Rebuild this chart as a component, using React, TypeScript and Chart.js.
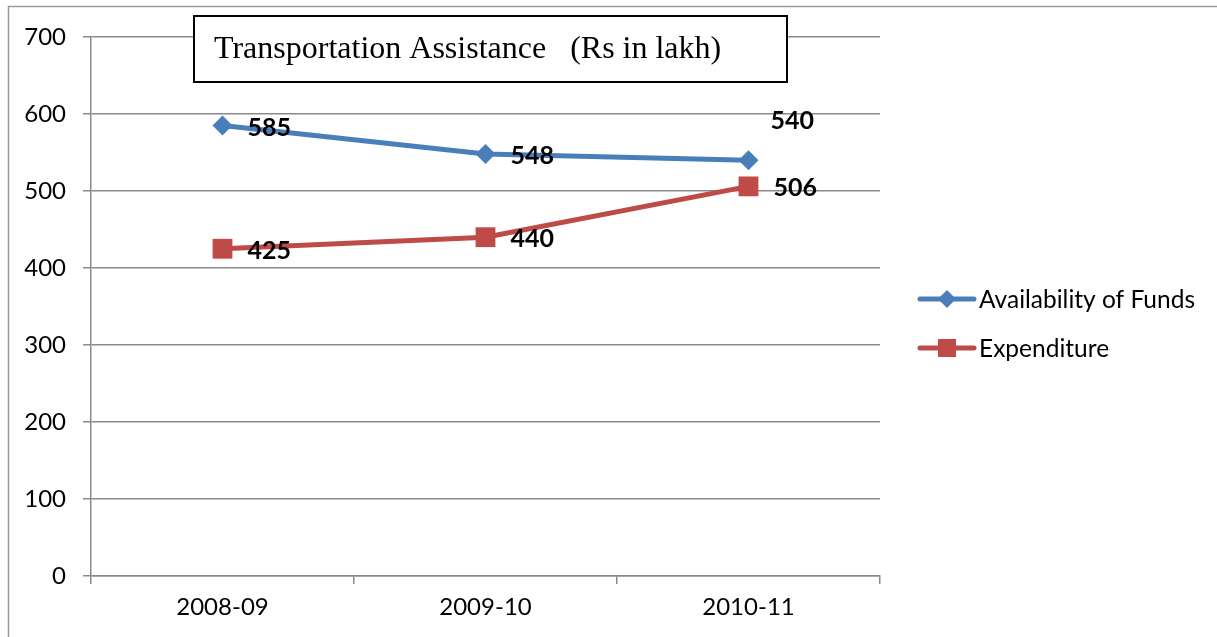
import React, { useEffect, useRef } from "react";
import { Chart, registerables } from "chart.js";

Chart.register(...registerables);

const categories = ["2008-09", "2009-10", "2010-11"];
const availabilityOfFunds = [585, 548, 540];
const expenditure = [425, 440, 506];
const yTicks = [0, 100, 200, 300, 400, 500, 600, 700];
const titleText = "Transportation Assistance   (Rs in lakh)";
const seriesLabels = ["Availability of Funds", "Expenditure"];

const BLUE = "#4A7EBB";
const RED = "#BE4B48";
const GRID = "#8a8a8a";

const framePlugin = {
  id: "frame",
  beforeDraw(chart: any) {
    const ctx = chart.ctx;
    ctx.save();
    ctx.fillStyle = "#ffffff";
    ctx.fillRect(0, 0, chart.width, chart.height);
    ctx.strokeStyle = "#9a9a9a";
    ctx.lineWidth = 1.5;
    ctx.beginPath();
    ctx.moveTo(8.5, chart.height);
    ctx.lineTo(8.5, 6.5);
    ctx.lineTo(chart.width, 6.5);
    ctx.stroke();
    ctx.restore();
  },
};

const overlayPlugin = {
  id: "overlay",
  afterDraw(chart: any) {
    const ctx = chart.ctx;
    ctx.save();
    // title box
    ctx.fillStyle = "#ffffff";
    ctx.fillRect(193, 15, 594, 67);
    ctx.strokeStyle = "#000000";
    ctx.lineWidth = 2;
    ctx.strokeRect(194, 16, 593, 66);
    ctx.fillStyle = "#000000";
    ctx.font = "32px 'Liberation Serif'";
    ctx.textBaseline = "alphabetic";
    ctx.textAlign = "left";
    ctx.fillText(titleText, 214, 58);

    // data labels
    ctx.font = "bold 25px Lato";
    ctx.textBaseline = "middle";
    chart.data.datasets.forEach((ds: any, di: number) => {
      const meta = chart.getDatasetMeta(di);
      meta.data.forEach((pt: any, i: number) => {
        let x = pt.x + 25;
        let y = pt.y + 2;
        if (di === 0 && i === ds.data.length - 1) {
          x = pt.x + 22;
          y = pt.y - 39;
        }
        ctx.fillStyle = "#000000";
        ctx.fillText(String(ds.data[i]), x, y);
      });
    });

    // legend
    chart.data.datasets.forEach((ds: any, di: number) => {
      const y = 299 + di * 49;
      ctx.strokeStyle = ds.borderColor;
      ctx.lineWidth = 5;
      ctx.lineCap = "round";
      ctx.beginPath();
      ctx.moveTo(920, y);
      ctx.lineTo(974, y);
      ctx.stroke();
      ctx.fillStyle = ds.backgroundColor;
      const cx = 947;
      if (ds.pointStyle === "rectRot") {
        ctx.beginPath();
        ctx.moveTo(cx, y - 9);
        ctx.lineTo(cx + 9, y);
        ctx.lineTo(cx, y + 9);
        ctx.lineTo(cx - 9, y);
        ctx.closePath();
        ctx.fill();
      } else {
        ctx.fillRect(cx - 9, y - 9, 18, 18);
      }
      ctx.fillStyle = "#000000";
      ctx.font = "24.5px Lato";
      ctx.textBaseline = "middle";
      ctx.textAlign = "left";
      ctx.fillText(ds.label, 979, y + 1);
    });
    ctx.restore();
  },
};

export default function App() {
  const ref = useRef<HTMLCanvasElement | null>(null);

  useEffect(() => {
    if (!ref.current) return;
    const chart = new Chart(ref.current, {
      type: "line",
      data: {
        labels: categories,
        datasets: [
          {
            label: seriesLabels[0],
            data: availabilityOfFunds,
            borderColor: BLUE,
            backgroundColor: BLUE,
            borderWidth: 5,
            pointStyle: "rectRot",
            pointRadius: 10,
            pointBorderWidth: 0,
            tension: 0,
          },
          {
            label: seriesLabels[1],
            data: expenditure,
            borderColor: RED,
            backgroundColor: RED,
            borderWidth: 5,
            pointStyle: "rect",
            pointRadius: 14,
            pointBorderWidth: 0,
            tension: 0,
          },
        ],
      },
      options: {
        responsive: false,
        animation: false,
        layout: { padding: { left: 0, right: 337, top: 37, bottom: 0 } },
        plugins: {
          legend: { display: false },
          title: { display: false },
          tooltip: { enabled: false },
        },
        scales: {
          x: {
            type: "category",
            offset: true,
            grid: {
              offset: true,
              drawOnChartArea: false,
              drawTicks: true,
              tickLength: 8,
              color: GRID,
              lineWidth: 1.5,
            },
            border: { display: true, color: GRID, width: 1.5 },
            ticks: {
              color: "#000000",
              font: { family: "Lato", size: 24 },
              padding: 9,
            },
            afterFit(scale: any) {
              scale.height = 61;
            },
          },
          y: {
            min: 0,
            max: 700,
            afterBuildTicks(scale: any) {
              scale.ticks = yTicks.map((v) => ({ value: v }));
            },
            grid: {
              color: GRID,
              lineWidth: 1.5,
              drawTicks: true,
              tickLength: 8,
            },
            border: { display: true, color: GRID, width: 1.5 },
            ticks: {
              color: "#000000",
              font: { family: "Lato", size: 24 },
              padding: 17,
            },
            afterFit(scale: any) {
              scale.width = 91;
            },
          },
        },
      },
      plugins: [framePlugin, overlayPlugin],
    });
    return () => chart.destroy();
  }, []);

  return (
    <canvas
      ref={ref}
      width={1217}
      height={637}
      style={{ position: "fixed", left: 0, top: 0, width: 1217, height: 637 }}
    />
  );
}
